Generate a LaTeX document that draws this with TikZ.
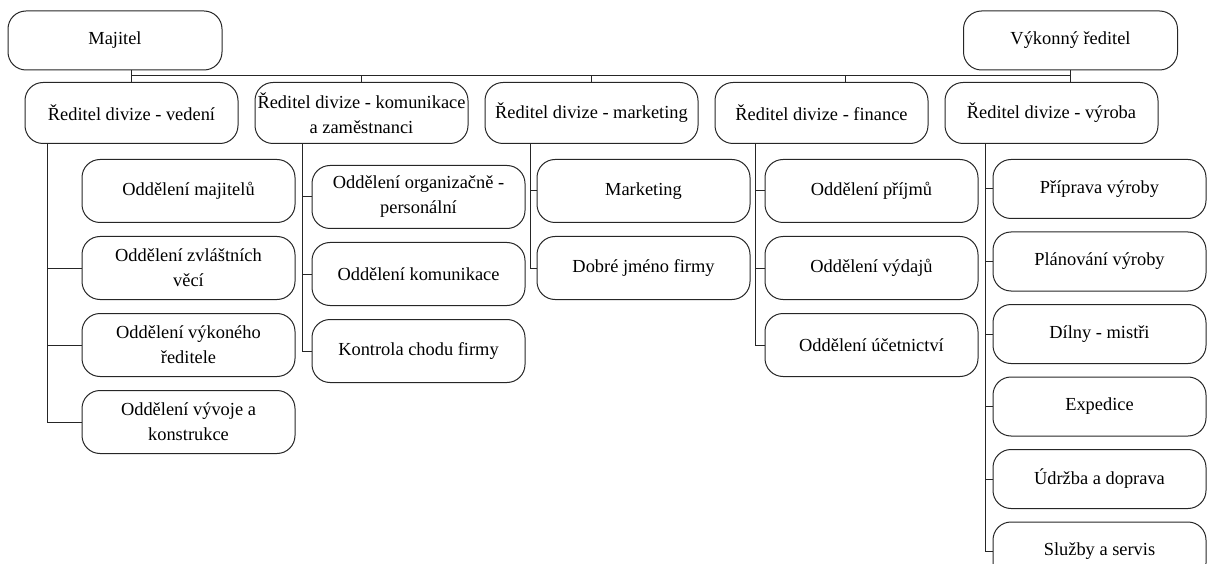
\documentclass[tikz,border=0pt]{standalone}
\usepackage{fontspec}
\setmainfont{Liberation Serif}
\usetikzlibrary{positioning}
\tikzset{boss/.style={rectangle,rounded corners=18pt,draw=black!85,line width=1pt,minimum width=214pt,minimum height=59pt,inner sep=1pt,align=center,font=\fontsize{18.4}{25}\selectfont}}
\tikzset{division/.style={boss,minimum width=213pt,minimum height=61pt}}
\tikzset{dept/.style={boss,minimum width=213pt,minimum height=63pt}}
\tikzset{link/.style={draw=black!85,line width=1pt}}

\begin{document}
\begin{tikzpicture}[x=1pt,y=-1pt]
\useasboundingbox (0,0) rectangle (1221,564);
\node (maj) [boss] at (115,40.5) {Majitel};
\node (vyk) [boss] at (1070.5,40.5) {Výkonný ředitel};
\coordinate (bus) at (0,76);
\begin{scope}[node distance=16pt]
	\node (ved) [division] at (131.5,113) {Ředitel divize - vedení};
	\node (kom) [division, right =of ved] {Ředitel divize - komunikace\\a zaměstnanci};
	\node (mkt) [division, right =of kom] {Ředitel divize - marketing};
	\node (fin) [division, right =of mkt] {Ředitel divize - finance};
	\node (vyr) [division, right =of fin] {Ředitel divize - výroba};
\end{scope}
\begin{scope}[node distance=13pt]
	\node (ved1) [dept, below =15pt of ved, xshift=57pt] {Oddělení majitelů};
	\node (ved2) [dept, below =of ved1] {Oddělení zvláštních\\věcí};
	\node (ved3) [dept, below =of ved2] {Oddělení výkoného\\ředitele};
	\node (ved4) [dept, below =of ved3] {Oddělení vývoje a\\konstrukce};
	\node (kom1) [dept, below =21pt of kom, xshift=57pt] {Oddělení organizačně -\\personální};
	\node (kom2) [dept, below =of kom1] {Oddělení komunikace};
	\node (kom3) [dept, below =of kom2] {Kontrola chodu firmy};
	\node (mkt1) [dept, below =15pt of mkt, xshift=52pt] {Marketing};
	\node (mkt2) [dept, below =of mkt1] {Dobré jméno firmy};
	\node (fin1) [dept, below =15pt of fin, xshift=50pt] {Oddělení příjmů};
	\node (fin2) [dept, below =of fin1] {Oddělení výdajů};
	\node (fin3) [dept, below =of fin2] {Oddělení účetnictví};
\end{scope}
\begin{scope}[node distance=12.5pt]
	\node (vyr1) [dept, minimum height=59pt, below =15pt of vyr, xshift=48pt] {Příprava výroby};
	\node (vyr2) [dept, minimum height=59pt, below =of vyr1] {Plánování výroby};
	\node (vyr3) [dept, minimum height=59pt, below =of vyr2] {Dílny - mistři};
	\node (vyr4) [dept, minimum height=59pt, below =of vyr3] {Expedice};
	\node (vyr5) [dept, minimum height=59pt, below =of vyr4] {Údržba a doprava};
	\node (vyr6) [dept, minimum height=59pt, below =of vyr5] {Služby a servis};
\end{scope}
% top level and bus
\draw [link] (ved.north |- maj.south) -- (ved.north);
\draw [link] (ved.north |- bus) -- (vyk.south |- bus);
\draw [link] (vyk.south) -- (vyk.south |- vyr.north);
\draw [link] (kom.north |- bus) -- (kom.north);
\draw [link] (mkt.north |- bus) -- (mkt.north);
\draw [link] ([xshift=24pt]fin.north |- bus) -- ([xshift=24pt]fin.north);
% stems
\coordinate (vedS) at ([xshift=-34pt]ved1.west |- ved.south);
\coordinate (komS) at ([xshift=-9pt]kom1.west |- kom.south);
\coordinate (mktS) at ([xshift=-6pt]mkt1.west |- mkt.south);
\coordinate (finS) at ([xshift=-9pt]fin1.west |- fin.south);
\coordinate (vyrS) at ([xshift=-7pt]vyr1.west |- vyr.south);
\draw [link] (vedS) |- (ved4.west);
\draw [link] (vedS |- ved2.west) -- (ved2.west);
\draw [link] (vedS |- ved3.west) -- (ved3.west);
\draw [link] (komS) |- (kom3.west);
\draw [link] (komS |- kom1.west) -- (kom1.west);
\draw [link] (komS |- kom2.west) -- (kom2.west);
\draw [link] (mktS) |- (mkt2.west);
\draw [link] (mktS |- mkt1.west) -- (mkt1.west);
\draw [link] (finS) |- (fin3.west);
\draw [link] (finS |- fin1.west) -- (fin1.west);
\draw [link] (finS |- fin2.west) -- (fin2.west);
\draw [link] (vyrS) |- (vyr6.west);
\draw [link] (vyrS |- vyr1.west) -- (vyr1.west);
\draw [link] (vyrS |- vyr2.west) -- (vyr2.west);
\draw [link] (vyrS |- vyr3.west) -- (vyr3.west);
\draw [link] (vyrS |- vyr4.west) -- (vyr4.west);
\draw [link] (vyrS |- vyr5.west) -- (vyr5.west);
\end{tikzpicture}
\end{document}
